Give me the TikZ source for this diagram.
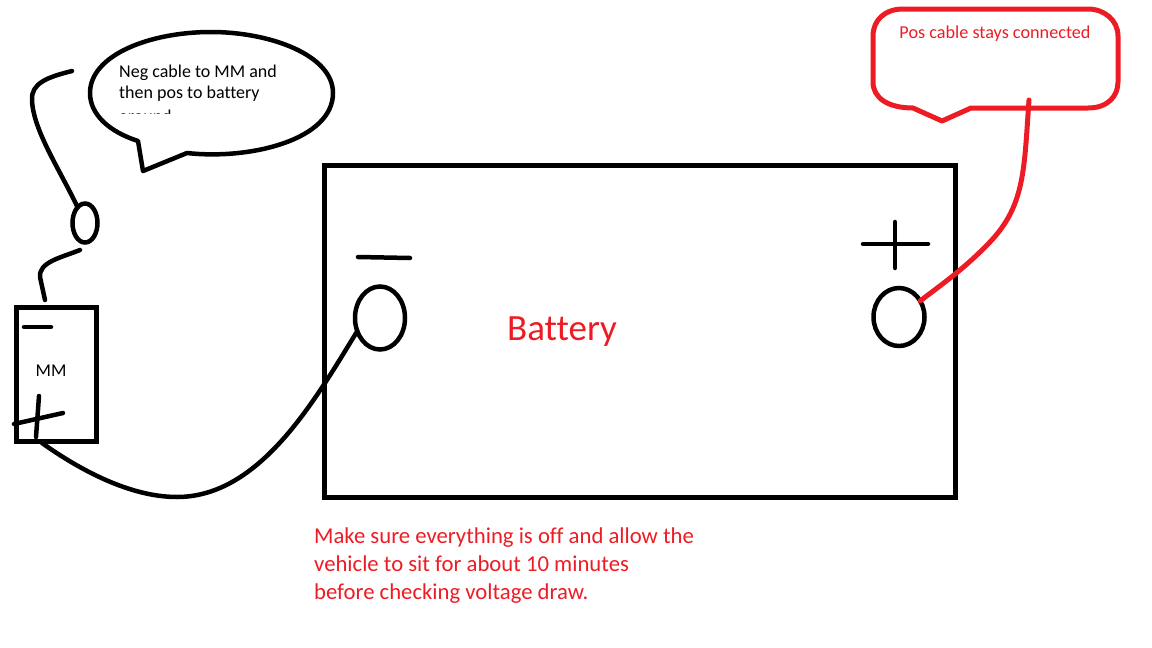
\documentclass[tikz,border=0pt]{standalone}
\usepackage{fontspec}
\setmainfont[Ligatures=NoCommon]{Carlito}
\usepackage{tikz}
\usetikzlibrary{arrows.meta,calc,positioning,shapes.geometric}
\usepackage{xcolor}
\definecolor{notered}{HTML}{ED1C24}
\tikzset{
  wire/.style={line width=4.5pt,line cap=round,line join=round},
  redwire/.style={wire,color=notered,line width=5pt},
  terminal/.style={draw,ellipse,line width=4.5pt,inner sep=0pt,outer sep=0pt},
  casebox/.style={draw,rectangle,line width=5pt,inner sep=0pt,outer sep=0pt},
  bubbletext/.style={align=left,inner sep=0pt,font=\fontsize{18}{21}\selectfont}
}
\begin{document}
\begin{tikzpicture}[x=1pt,y=-1pt]
  \useasboundingbox (0,0) rectangle (1152,648);
  \node[casebox,minimum width=631pt,minimum height=332pt] (battery) at (640,331) {};
  \node[terminal,minimum width=50pt,minimum height=63pt] (negterm) at (380,318) {};
  \node[terminal,minimum width=51pt,minimum height=58pt] (posterm) at (899,317) {};
  \node[casebox,minimum width=80pt,minimum height=134pt] (meter) at (56,374) {};
  \node[terminal,minimum width=25pt,minimum height=39pt] (clip) at (85,223) {};
  \node[font=\fontsize{37}{42}\selectfont,text=notered] (batterylabel) at (562,332) {Battery};
  \node[font=\fontsize{18}{20}\selectfont] (meterlabel) at (51,371) {MM};
  \node[anchor=north west,inner sep=0pt,align=left,text=notered,font=\fontsize{22.7}{28}\selectfont] (warning) at (314,528) {Make sure everything is off and allow the\\vehicle to sit for about 10 minutes\\before checking voltage draw.};
  \node[text=notered,font=\fontsize{18.2}{20}\selectfont] (poslabel) at (995,34) {Pos cable stays connected};
  % neg speech bubble
  \draw[wire] (187,153) .. controls (250,160) and (333,140) .. (333,93)
    .. controls (333,55) and (270,32) .. (211,32)
    .. controls (150,32) and (90,55) .. (90,93)
    .. controls (90,115) and (110,132) .. (138,141) -- (143,171) -- cycle;
  \node[bubbletext,anchor=base west] (negtext) at (119,77) {Neg cable to MM and};
  \node[bubbletext,anchor=base west] (negtexttwo) at (119,98) {then pos to battery};
  \begin{scope}
    \clip (110,100) rectangle (200,113);
    \node[bubbletext,anchor=base west] (cuttext) at (119,122) {around};
  \end{scope}
  % pos speech bubble
  \draw[redwire] (913,108) -- (942,121) -- (971,108) -- (1088,108)
    .. controls (1108,108) and (1118,96) .. (1118,82) -- (1118,36)
    .. controls (1118,20) and (1104,9) .. (1088,9) -- (903,9)
    .. controls (885,9) and (873,20) .. (873,36) -- (873,82)
    .. controls (873,98) and (888,108) .. (913,108) -- cycle;
  % signs
  \coordinate (negsignL) at (358,257);
  \coordinate (negsignR) at (410,258);
  \coordinate (possignL) at (863,244);
  \coordinate (possignR) at (928,244);
  \coordinate (possignT) at (895,222);
  \coordinate (possignB) at (895,268);
  \coordinate (mmnegL) at (24,327);
  \coordinate (mmnegR) at (51,327);
  \coordinate (mmposL) at (14,424);
  \coordinate (mmposR) at (63,413);
  \coordinate (mmposT) at (39,396);
  \coordinate (mmposB) at (36,437);
  \draw[wire] (negsignL) -- (negsignR);
  \draw[wire] (possignL) -- (possignR);
  \draw[wire] (possignT) -- (possignB);
  \draw[wire] (mmnegL) -- (mmnegR);
  \draw[wire] (mmposL) -- (mmposR);
  \draw[wire] (mmposT) -- (mmposB);
  % cables
  \coordinate (leadfree) at (72,71);
  \coordinate (leadtop) at (80,250);
  \coordinate (leadmeter) at (45,300);
  \coordinate (meterpos) at (42,443);
  \coordinate (bubblepos) at (1029,100);
  \draw[wire] (leadfree) .. controls (48,77) and (31,83) .. (32,100)
    .. controls (33,130) and (60,170) .. (clip);
  \draw[wire] (leadtop) .. controls (60,258) and (39,262) .. (40,277) -- (leadmeter);
  \draw[wire] (meterpos) .. controls (80,470) and (130,497) .. (177,497)
    .. controls (260,497) and (315,400) .. (negterm.210);
  \draw[redwire] (bubblepos) .. controls (1024,170) and (1025,205) .. (990,242)
    .. controls (965,268) and (945,282) .. (posterm);
\end{tikzpicture}
\end{document}
